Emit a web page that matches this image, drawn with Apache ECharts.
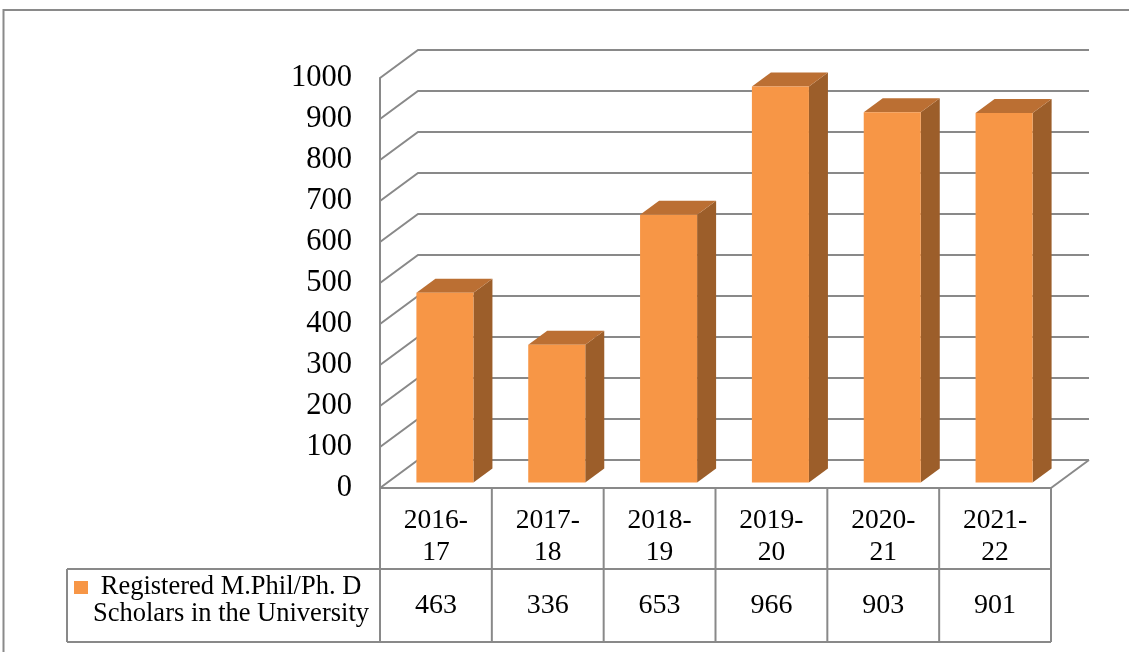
<!DOCTYPE html>
<html><head><meta charset="utf-8">
<script src="https://cdn.jsdelivr.net/npm/echarts@6/dist/echarts.min.js"></script>
<style>html,body{margin:0;padding:0;background:#fff}#c{width:1129px;height:652px}</style>
</head><body><div id="c"></div>
<script>
// ---- data ----
const categories = ['2016-17','2017-18','2018-19','2019-20','2020-21','2021-22'];
const scholars = [463,336,653,966,903,901];
const seriesNameLines = ['Registered M.Phil/Ph. D','Scholars in the University'];
const yTicks = [0,100,200,300,400,500,600,700,800,900,1000];

// ---- layout / style ----
const FONT = "'Liberation Serif','Times New Roman',serif";
const GRID = {left:380, top:78, width:671, height:410};
const WALL = [38,-28];
const BAR_SHIFT = [9,-5.5];
const BAR_DEPTH = [19,-14];
const BAR_W = 0.51;
const LINE = '#898989';
const C_FRONT='#F79646', C_TOP='#BB6F33', C_SIDE='#9C5E2A';
const ROW1 = GRID.top + GRID.height, ROW2 = 569, TBOTTOM = 642, LEGL = 67;

const chart = echarts.init(document.getElementById('c'), null, {renderer:'canvas'});

function gridRender(params, api){
  const v = api.value(1);
  const cs = params.coordSys;
  const y = api.coord([0, v])[1];
  const x0 = cs.x, x1 = cs.x + cs.width;
  const children = [{type:'polyline', shape:{points:[[x0,y],[x0+WALL[0],y+WALL[1]],[x1+WALL[0],y+WALL[1]]]},
    style:{stroke:LINE, lineWidth:2, fill:null}}];
  if (v === 0) children.push({type:'line', shape:{x1:x1,y1:y,x2:x1+WALL[0],y2:y+WALL[1]}, style:{stroke:LINE,lineWidth:2}});
  return {type:'group', children};
}

function barRender(params, api){
  const i = api.value(0), v = api.value(1);
  const base = api.coord([i, 0]);
  const top = api.coord([i, v]);
  const w = api.size([1,0])[0]*BAR_W;
  const cx = base[0] + BAR_SHIFT[0];
  const xl = cx - w/2, xr = cx + w/2;
  const yb = base[1] + BAR_SHIFT[1], yt = top[1] + BAR_SHIFT[1];
  const dx = BAR_DEPTH[0], dy = BAR_DEPTH[1];
  return {type:'group', children:[
    {type:'polygon', shape:{points:[[xr,yt],[xr,yb],[xr+dx,yb+dy],[xr+dx,yt+dy]]}, style:{fill:C_SIDE}},
    {type:'polygon', shape:{points:[[xl,yt],[xr,yt],[xr+dx,yt+dy],[xl+dx,yt+dy]]}, style:{fill:C_TOP}},
    {type:'rect', shape:{x:xl,y:yt,width:w,height:yb-yt}, style:{fill:C_FRONT}}
  ]};
}

const graphics = [];
const ls = {stroke:LINE, lineWidth:2};
// outer frame
graphics.push({type:'polyline', shape:{points:[[3.5,660],[3.5,10],[1140,10]]}, style:{stroke:'#8a8a8a', lineWidth:2, fill:null}});
// table
const x0 = GRID.left, x1 = GRID.left + GRID.width, cw = GRID.width/categories.length;
graphics.push({type:'line', shape:{x1:x0,y1:ROW1,x2:x1,y2:ROW1}, style:ls});
graphics.push({type:'line', shape:{x1:LEGL,y1:ROW2,x2:x1,y2:ROW2}, style:ls});
graphics.push({type:'line', shape:{x1:LEGL,y1:TBOTTOM,x2:x1,y2:TBOTTOM}, style:ls});
graphics.push({type:'line', shape:{x1:LEGL,y1:ROW2,x2:LEGL,y2:TBOTTOM}, style:ls});
for (let k=0;k<=categories.length;k++){
  const x = x0 + k*cw;
  graphics.push({type:'line', shape:{x1:x,y1:ROW1,x2:x,y2:TBOTTOM}, style:ls});
}
graphics.push({type:'rect', shape:{x:74,y:581,width:14,height:13}, style:{fill:C_FRONT}});
graphics.push({type:'text', x:231, y:601, style:{text:seriesNameLines.join('\n'), font:"26.5px "+FONT, fill:'#000',
  align:'center', verticalAlign:'middle', lineHeight:27}});

chart.setOption({
  animation:false,
  grid:{left:GRID.left, top:GRID.top, width:GRID.width, height:GRID.height},
  xAxis:[
    {type:'category', data:categories, position:'bottom', axisLine:{show:false}, axisTick:{show:false}, splitLine:{show:false},
     axisLabel:{interval:0, formatter:s=>s.replace('-', '-\n'), fontFamily:FONT, fontSize:27.5, color:'#000', lineHeight:32, margin:17}},
    {type:'category', data:scholars.map(String), position:'bottom', axisLine:{show:false}, axisTick:{show:false}, splitLine:{show:false},
     axisLabel:{interval:0, fontFamily:FONT, fontSize:28, color:'#000', lineHeight:27, margin:104}}
  ],
  yAxis:{type:'value', min:yTicks[0], max:yTicks[yTicks.length-1], interval:yTicks[1]-yTicks[0],
    axisLine:{show:true, lineStyle:{color:LINE, width:2}}, axisTick:{show:false}, splitLine:{show:false},
    axisLabel:{formatter:v=>String(v), fontFamily:FONT, fontSize:30.5, color:'#000', margin:28}},
  series:[
    {type:'custom', name:'grid', silent:true, z:1, xAxisIndex:0, data:yTicks.map(v=>[0,v]), renderItem:gridRender},
    {type:'custom', name:seriesNameLines.join(' '), z:2, xAxisIndex:0, data:scholars.map((v,i)=>[i,v]), renderItem:barRender}
  ],
  graphic:graphics
});
</script></body></html>
